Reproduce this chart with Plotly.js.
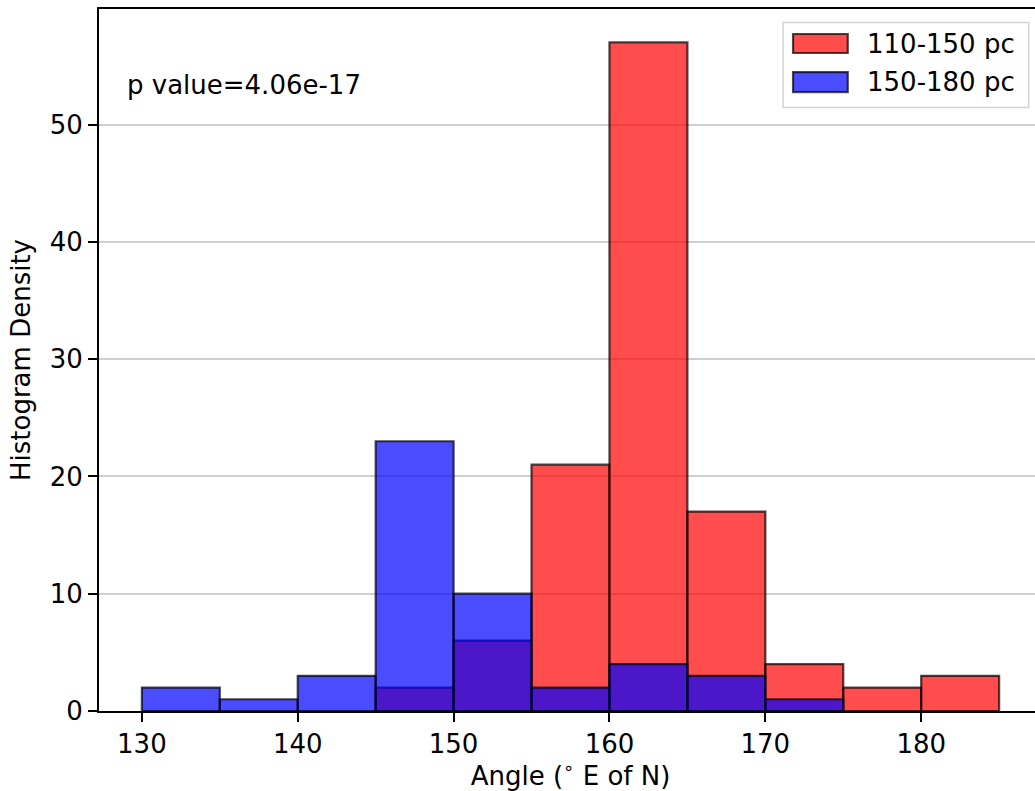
<!DOCTYPE html>
<html>
<head>
<meta charset="utf-8">
<script src="https://cdn.plot.ly/plotly-3.0.1.min.js"></script>
<style>
  html, body { margin: 0; padding: 0; background: #ffffff; overflow: hidden; }
  #chart { width: 1042px; height: 791px; }
</style>
</head>
<body>
<div id="chart"></div>
<script>
// Histogram counts per 5-degree bin (left bin edges given separately)
const seriesNames = ['110-150 pc', '150-180 pc'];
const binWidth = 5;
const redBinStarts = [145, 150, 155, 160, 165, 170, 175, 180];
const redCounts = [2, 6, 21, 57, 17, 4, 2, 3];
const blueBinStarts = [130, 135, 140, 145, 150, 155, 160, 165, 170];
const blueCounts = [2, 1, 3, 23, 10, 2, 4, 3, 1];
const xTicks = [130, 140, 150, 160, 170, 180];
const yTicks = [0, 10, 20, 30, 40, 50];
const pValueText = 'p value=4.06e-17';

const FONT = 'DejaVu Sans, sans-serif';
const fills = ['rgba(255,0,0,0.7)', 'rgba(0,0,255,0.7)'];
const edge = 'rgba(0,0,0,0.7)';

function barTrace(starts, counts, name, fill) {
  return {
    type: 'bar',
    name: name,
    x: starts.map(s => s + binWidth / 2),
    y: counts,
    width: starts.map(() => binWidth),
    marker: { color: fill, line: { color: edge, width: 2.2 } },
    showlegend: false,
    hoverinfo: 'skip'
  };
}

const traces = [
  barTrace(redBinStarts, redCounts, seriesNames[0], fills[0]),
  barTrace(blueBinStarts, blueCounts, seriesNames[1], fills[1])
];

// Legend box drawn in paper coordinates with wide swatches
const legendRows = [
  { sy0: 0.9373, sy1: 0.9644, ty: 0.9501 },
  { sy0: 0.8817, sy1: 0.9102, ty: 0.8960 }
];
const shapes = [{
  type: 'rect', xref: 'paper', yref: 'paper',
  x0: 0.7254, x1: 0.9859, y0: 0.8598, y1: 0.9809,
  fillcolor: 'rgba(255,255,255,0.8)',
  line: { color: '#d4d4d4', width: 1.5 },
  layer: 'above'
}];
const annotations = [{
  xref: 'paper', yref: 'paper', x: 0.028, y: 0.892,
  xanchor: 'left', yanchor: 'middle', showarrow: false,
  text: pValueText, font: { family: FONT, size: 26, color: '#000' }
}];
legendRows.forEach((r, i) => {
  shapes.push({
    type: 'rect', xref: 'paper', yref: 'paper',
    x0: 0.736, x1: 0.794, y0: r.sy0, y1: r.sy1,
    fillcolor: fills[i], line: { color: edge, width: 2.2 }, layer: 'above'
  });
  annotations.push({
    xref: 'paper', yref: 'paper', x: 0.8125, y: r.ty,
    xanchor: 'left', yanchor: 'middle', showarrow: false,
    text: seriesNames[i], font: { family: FONT, size: 26, color: '#000' }
  });
});

const layout = {
  width: 1042, height: 791,
  margin: { l: 99, r: 0, t: 9, b: 80 },
  paper_bgcolor: '#ffffff', plot_bgcolor: '#ffffff',
  barmode: 'overlay',
  bargap: 0,
  font: { family: FONT, size: 26, color: '#000' },
  xaxis: {
    range: [127.25, 187.75],
    tickvals: xTicks,
    ticks: 'outside', ticklen: 9, tickwidth: 2, tickcolor: '#000',
    showline: true, linewidth: 2, linecolor: '#000', mirror: true,
    showgrid: false, zeroline: false,
    tickfont: { family: FONT, size: 26, color: '#000' },
    title: { text: 'Angle (<sup>∘</sup> E of N)', font: { family: FONT, size: 26, color: '#000' }, standoff: 10 }
  },
  yaxis: {
    range: [0, 59.85],
    tickvals: yTicks,
    ticks: 'outside', ticklen: 9, tickwidth: 2, tickcolor: '#000',
    showline: true, linewidth: 2, linecolor: '#000', mirror: true,
    showgrid: true, gridcolor: '#cfcfcf', gridwidth: 2,
    zeroline: false,
    tickfont: { family: FONT, size: 26, color: '#000' },
    title: { text: 'Histogram Density', font: { family: FONT, size: 26, color: '#000' }, standoff: 12 }
  },
  shapes: shapes,
  annotations: annotations
};

Plotly.newPlot('chart', traces, layout, { displayModeBar: false, staticPlot: true });
</script>
</body>
</html>
